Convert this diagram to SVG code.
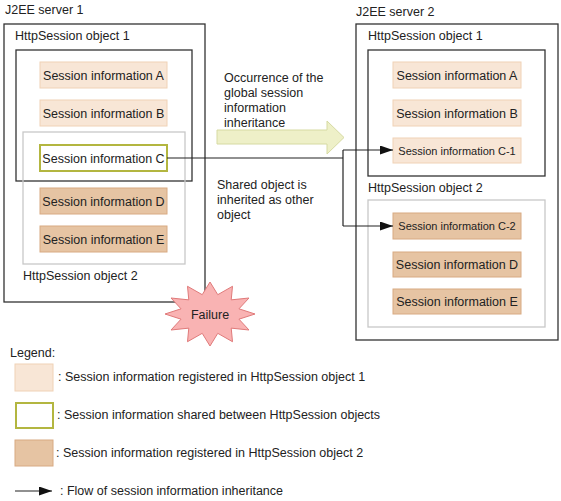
<svg xmlns="http://www.w3.org/2000/svg" width="561" height="501" viewBox="0 0 561 501">
<style>
text{font-family:"Liberation Sans",Arial,sans-serif;font-size:12.5px;fill:#222}
.t{font-size:12.5px}
.s{font-size:11px}
.srv{fill:#fff;stroke:#333;stroke-width:1.3}
.hs1{fill:none;stroke:#333;stroke-width:1.3}
.hs2{fill:none;stroke:#c8c8c8;stroke-width:1.3}
.si1{fill:#f8e6d6;stroke:#f0d2b6;stroke-width:1}
.si2{fill:#e6c4a3;stroke:#d8aa82;stroke-width:1}
.sh{fill:#fff;stroke:#b3b640;stroke-width:2}
.ln{fill:none;stroke:#222;stroke-width:1.2}
</style>
<defs>
<marker id="ah" markerWidth="13" markerHeight="9" refX="13" refY="4.5" orient="auto" markerUnits="userSpaceOnUse">
<path d="M0,0 L13,4.5 L0,9 Z" fill="#111"/>
</marker>
</defs>

<g id="server1">
<text x="5" y="14" class="t">J2EE server 1</text>
<rect class="srv" x="4" y="24" width="201" height="278"/>
</g>
<g id="server2">
<text x="356" y="16" class="t">J2EE server 2</text>
<rect class="srv" x="356" y="24" width="202" height="316"/>
</g>

<g id="s1-hs1">
<text x="15" y="40" class="t">HttpSession object 1</text>
<rect class="hs1" x="16" y="50" width="176" height="131"/>
</g>
<g id="s1-hs2">
<rect class="hs2" x="23" y="132" width="162" height="132"/>
<text x="23" y="280" class="t">HttpSession object 2</text>
</g>

<g id="s1-a"><rect class="si1" x="40" y="62" width="127" height="26"/><text x="103.5" y="79.5" text-anchor="middle">Session information A</text></g>
<g id="s1-b"><rect class="si1" x="40" y="100" width="127" height="26"/><text x="103.5" y="117.5" text-anchor="middle">Session information B</text></g>
<g id="s1-c"><rect class="sh" x="40" y="145" width="127" height="26"/><text x="103.5" y="162.5" text-anchor="middle">Session information C</text></g>
<g id="s1-d"><rect class="si2" x="40" y="188" width="127" height="26"/><text x="103.5" y="205.5" text-anchor="middle">Session information D</text></g>
<g id="s1-e"><rect class="si2" x="40" y="226" width="127" height="26"/><text x="103.5" y="243.5" text-anchor="middle">Session information E</text></g>

<g id="s2-hs1">
<text x="368" y="40" class="t">HttpSession object 1</text>
<rect class="hs1" x="368" y="50" width="177" height="126"/>
</g>
<g id="s2-hs2">
<text x="368" y="192" class="t">HttpSession object 2</text>
<rect class="hs2" x="368" y="200" width="177" height="127"/>
</g>

<g id="s2-a"><rect class="si1" x="393" y="62" width="128" height="26"/><text x="457" y="79.5" text-anchor="middle">Session information A</text></g>
<g id="s2-b"><rect class="si1" x="393" y="100" width="128" height="26"/><text x="457" y="117.5" text-anchor="middle">Session information B</text></g>
<g id="s2-c1"><rect class="si1" x="393" y="138" width="128" height="25"/><text x="457" y="154.5" text-anchor="middle" class="s">Session information C-1</text></g>
<g id="s2-c2"><rect class="si2" x="393" y="213" width="128" height="26"/><text x="457" y="230" text-anchor="middle" class="s">Session information C-2</text></g>
<g id="s2-d"><rect class="si2" x="393" y="252" width="128" height="25"/><text x="457" y="268.5" text-anchor="middle">Session information D</text></g>
<g id="s2-e"><rect class="si2" x="393" y="289" width="128" height="25"/><text x="457" y="305.5" text-anchor="middle">Session information E</text></g>

<g id="big-arrow">
<polygon points="217,130 327,130 327,121 344,137.5 327,154 327,144 217,144" fill="#eef0c8" stroke="#d6daa2" stroke-width="1"/>
<text x="224" y="82">Occurrence of the</text>
<text x="224" y="97">global session</text>
<text x="224" y="112">information</text>
<text x="224" y="127">inheritance</text>
</g>

<g id="note">
<text x="217" y="189">Shared object is</text>
<text x="217" y="204">inherited as other</text>
<text x="217" y="219">object</text>
</g>

<g id="failure">
<polygon points="255,314 238.98,308.82 248.97,298 231.21,299.86 232.5,286.29 217.77,294.68 210,282 202.23,294.68 187.5,286.29 188.79,299.86 171.03,298 181.02,308.82 165,314 181.02,319.18 171.03,330 188.79,328.14 187.5,341.71 202.23,333.32 210,346 217.77,333.32 232.5,341.71 231.21,328.14 248.97,330 238.98,319.18" fill="#f9b3b3" stroke="#e07a7a" stroke-width="1"/>
<text x="210" y="318.5" text-anchor="middle">Failure</text>
</g>

<g id="connectors">
<polyline class="ln" points="167,158 343,158"/>
<polyline class="ln" points="343,150 343,226"/>
<line class="ln" x1="343" y1="150" x2="393" y2="150" marker-end="url(#ah)"/>
<line class="ln" x1="343" y1="226" x2="393" y2="226" marker-end="url(#ah)"/>
</g>

<g id="legend">
<text x="10" y="357">Legend:</text>
<rect class="si1" x="15" y="364" width="38" height="27"/>
<text x="58" y="381">: Session information registered in HttpSession object 1</text>
<rect class="sh" x="16" y="403" width="37" height="25"/>
<text x="57" y="419">:  Session information shared between HttpSession objects</text>
<rect class="si2" x="15" y="440" width="38" height="26"/>
<text x="56" y="457">: Session information registered in HttpSession object 2</text>
<line class="ln" x1="15" y1="491" x2="52" y2="491" marker-end="url(#ah)"/>
<text x="60" y="495">: Flow of session information inheritance</text>
</g>
</svg>
